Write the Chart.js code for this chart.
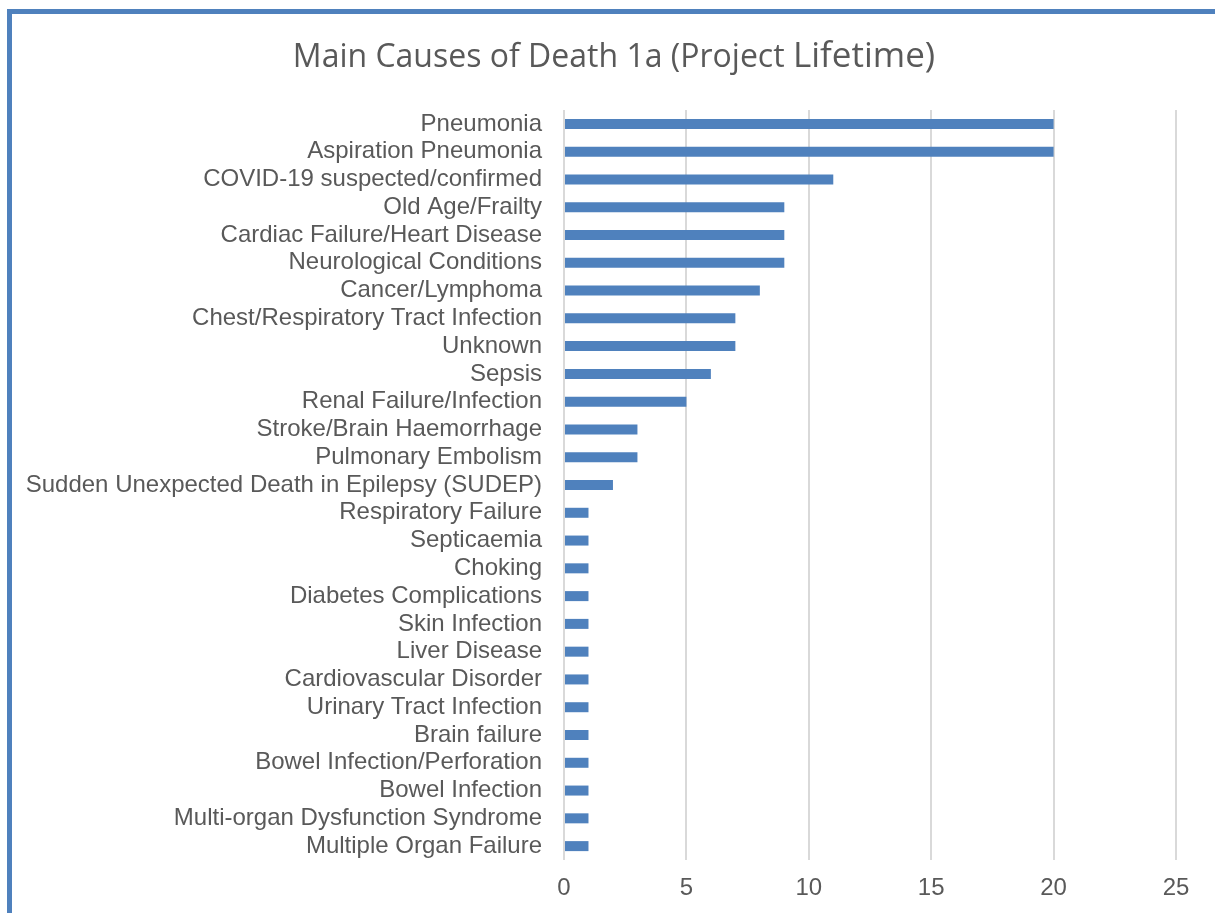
<!DOCTYPE html>
<html>
<head>
<meta charset="utf-8">
<script src="https://cdn.jsdelivr.net/npm/chart.js@4"></script>
<style>
  html, body { margin: 0; padding: 0; background: #fff; overflow: hidden; }
  #wrap { position: relative; width: 1215px; height: 913px; }
  #frame { position: absolute; left: 7px; top: 9px; width: 1300px; height: 1000px;
           border-left: 5px solid #4f81bd; border-top: 5px solid #4f81bd; box-sizing: border-box; }
  canvas { position: absolute; left: 0; top: 0; }
</style>
</head>
<body>
<div id="wrap">
  <div id="frame"></div>
  <canvas id="c" width="1215" height="913"></canvas>
</div>
<script>
const categories = [
  "Pneumonia",
  "Aspiration Pneumonia",
  "COVID-19 suspected/confirmed",
  "Old Age/Frailty",
  "Cardiac Failure/Heart Disease",
  "Neurological Conditions",
  "Cancer/Lymphoma",
  "Chest/Respiratory Tract Infection",
  "Unknown",
  "Sepsis",
  "Renal Failure/Infection",
  "Stroke/Brain Haemorrhage",
  "Pulmonary Embolism",
  "Sudden Unexpected Death in Epilepsy (SUDEP)",
  "Respiratory Failure",
  "Septicaemia",
  "Choking",
  "Diabetes Complications",
  "Skin Infection",
  "Liver Disease",
  "Cardiovascular Disorder",
  "Urinary Tract Infection",
  "Brain failure",
  "Bowel Infection/Perforation",
  "Bowel Infection",
  "Multi-organ Dysfunction Syndrome",
  "Multiple Organ Failure"
];
const deaths = [20, 20, 11, 9, 9, 9, 8, 7, 7, 6, 5, 3, 3, 2, 1, 1, 1, 1, 1, 1, 1, 1, 1, 1, 1, 1, 1];
const xTicks = [0, 5, 10, 15, 20, 25];
const titleParts = ["Main Causes of Death 1a (Project ", "Lifetime)"];

const titlePlugin = {
  id: 'mixedTitle',
  afterDraw(chart) {
    const ctx = chart.ctx;
    const fonts = ['32px "Open Sans"', '35px "Open Sans"'];
    ctx.save();
    ctx.fillStyle = '#595959';
    ctx.textBaseline = 'alphabetic';
    ctx.textAlign = 'left';
    const widths = titleParts.map((t, i) => { ctx.font = fonts[i]; return ctx.measureText(t).width; });
    const total = widths.reduce((a, b) => a + b, 0);
    let x = 614 - total / 2;
    titleParts.forEach((t, i) => { ctx.font = fonts[i]; ctx.fillText(t, x, 67); x += widths[i]; });
    ctx.restore();
  }
};

Chart.defaults.animation = false;
new Chart(document.getElementById('c'), {
  type: 'bar',
  data: {
    labels: categories,
    datasets: [{
      data: deaths,
      backgroundColor: '#4f81bd',
      borderWidth: 0,
      categoryPercentage: 1.0,
      barPercentage: 0.36
    }]
  },
  options: {
    indexAxis: 'y',
    responsive: false,
    layout: { padding: { left: 0, right: 39, top: 110, bottom: 0 } },
    plugins: {
      legend: { display: false },
      tooltip: { enabled: false },
      title: { display: false }
    },
    scales: {
      x: {
        min: 0, max: 25,
        afterBuildTicks: (s) => { s.ticks = xTicks.map(v => ({ value: v })); },
        afterFit: (s) => { s.height = 53; },
        grid: { color: '#d9d9d9', lineWidth: 2, drawTicks: false },
        border: { display: false },
        ticks: { color: '#595959', font: { family: 'Liberation Sans', size: 24 }, padding: 14 }
      },
      y: {
        afterFit: (s) => { s.width = 564; },
        grid: { display: false, drawTicks: false },
        border: { display: false },
        ticks: { color: '#595959', font: { family: 'Liberation Sans', size: 24 }, padding: 22, autoSkip: false }
      }
    }
  },
  plugins: [titlePlugin]
});
</script>
</body>
</html>
